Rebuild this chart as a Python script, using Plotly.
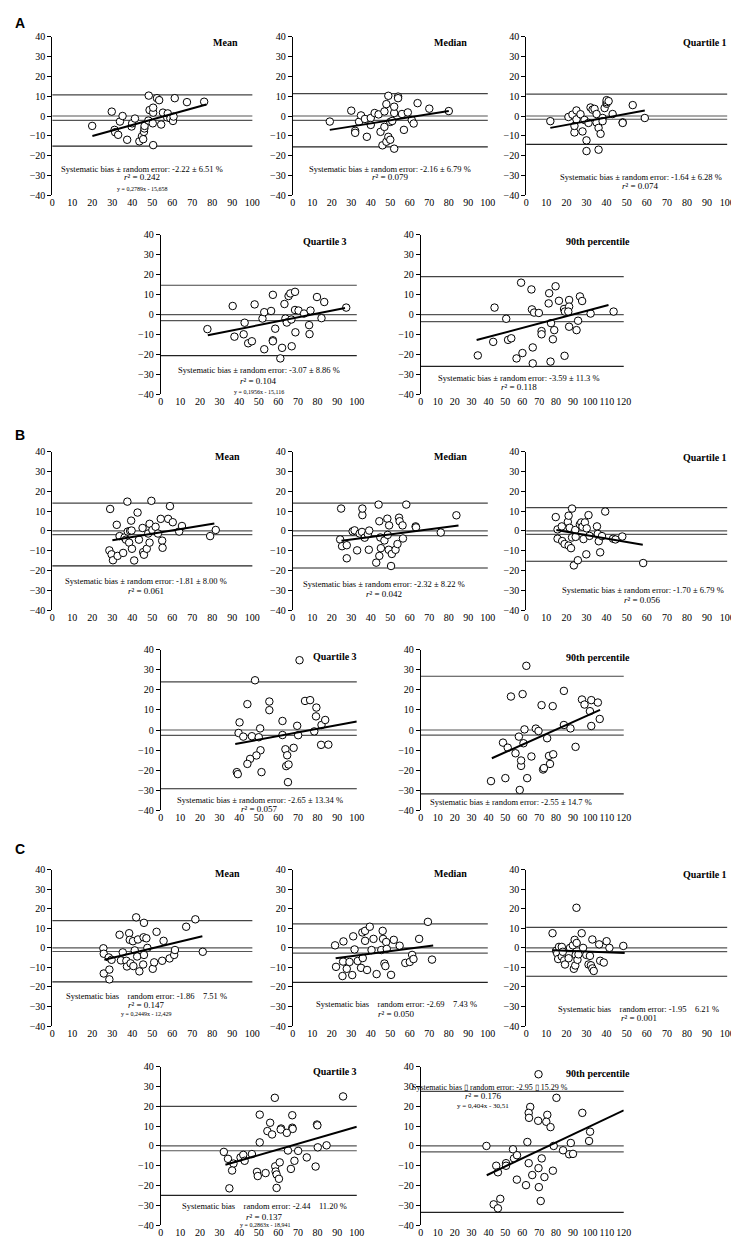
import plotly.graph_objects as go

W, H = 739, 1240

# ---------------- DATA ----------------
# Panel A
a_mean_x = [19.9, 29.7, 31.1, 31.4, 32.9, 33.8, 35.1, 37.4, 39.6, 39.9, 41.3, 43.5, 44.8, 45.4, 45.8, 46.0, 46.1, 48.0, 48.2, 48.6, 50.4, 50.4, 50.2, 50.4, 52.3, 53.4, 54.4, 55.3, 57.4, 57.7, 59.0, 60.3, 60.6, 61.2, 67.3, 75.9]
a_mean_y = [-5.0, 2.2, -7.0, -8.2, -9.5, -2.8, 0.0, -12.0, -5.3, -3.7, -1.3, -12.8, -10.2, -11.7, -8.0, -6.3, -5.0, -2.3, 10.3, 3.0, 1.7, 4.2, -3.7, -14.7, 9.0, 8.0, -4.3, 1.7, -0.7, 1.3, -1.2, -2.5, -0.3, 9.0, 7.0, 7.2]
a_median_x = [19, 30, 32, 32, 34, 35, 37, 38, 40, 40, 42, 44, 45, 46, 47, 47, 48, 48, 49, 49, 50, 50, 51, 52, 52, 52, 54, 54, 56, 57, 59, 61, 62, 64, 70, 80]
a_median_y = [-2.8, 2.7, -7.5, -8.5, -2.9, 0.3, -1.5, -10.5, -1.0, -4.5, 1.5, 0.8, -8.0, -14.8, -5.5, 2.3, 6.0, -13.0, -10.5, 10.2, -12.0, -3.0, -2.5, 1.5, 4.7, -16.5, 9.8, 9.0, 1.0, -7.0, 1.8, -2.0, -3.8, 6.5, 3.7, 2.5]
a_q1_x = [12, 21, 23, 24, 24, 25, 25, 27, 28, 29, 30, 30, 31, 32, 33, 34, 35, 35, 36, 36, 37, 38, 38, 39, 40, 40, 40, 41, 43, 48, 48, 53, 59]
a_q1_y = [-2.6, -0.5, 0.7, -8.3, -5.0, 2.8, -1.7, 0.9, -7.8, -2.0, -12.3, -17.7, -3.5, 4.3, 3.2, 3.6, -3.3, 1.0, -6.0, -17.0, -9.0, -1.0, -2.6, 4.0, 6.2, 7.0, 8.0, 7.5, 1.0, -3.2, -3.5, 5.5, -1.0]
a_q3_x = [23.8, 36.7, 37.6, 42.8, 42.3, 44.6, 46.5, 47.9, 51.9, 52.8, 52.8, 56.3, 57.2, 57.2, 57.2, 58.4, 61.0, 61.9, 63.1, 63.6, 64.3, 65.2, 66.1, 66.6, 66.8, 68.5, 68.5, 68.7, 70.3, 73.1, 75.7, 75.9, 76.4, 79.7, 82.0, 83.4, 94.6]
a_q3_y = [-7.3, 4.3, -11.1, -4.1, -9.9, -14.4, -13.4, 5.1, -2.0, 1.2, -17.4, 1.8, 9.9, -12.9, -13.4, -7.1, -22.0, -16.7, 5.3, -2.0, -4.0, 9.3, 10.6, -2.5, -15.9, 11.4, 2.3, -8.9, 2.0, 0.5, -5.3, -9.8, 2.0, 8.8, -1.8, 6.3, 3.5]
a_p90_x = [33.7, 43.6, 42.8, 50.5, 51.6, 53.5, 56.6, 59.3, 60.1, 65.4, 65.7, 66.2, 66.2, 67.0, 69.8, 71.4, 71.4, 75.9, 75.6, 77.0, 76.7, 78.1, 78.9, 79.7, 81.7, 84.7, 85.0, 85.2, 87.7, 87.7, 87.7, 87.2, 92.1, 93.0, 94.1, 95.4, 100.4, 114.0]
a_p90_y = [-20.5, 3.5, -13.7, -2.1, -12.7, -11.9, -22.0, 16.0, -19.3, 12.6, 2.6, -16.5, -24.5, 1.0, 0.8, -8.3, -9.9, 10.7, 5.6, -4.3, -23.6, -12.4, -7.8, 14.2, 6.9, 2.8, -20.7, 1.5, 7.3, 4.0, -6.1, 1.5, -7.8, -3.1, 9.1, 6.8, 0.5, 1.5]

# Panel B
b_mean_x = [28.9, 28.5, 29.6, 30.3, 32.2, 32.6, 33.6, 35.4, 36.1, 36.8, 37.5, 37.7, 38.4, 38.9, 39.6, 39.4, 39.8, 40.9, 42.6, 43.3, 45.1, 45.4, 45.8, 47.2, 47.9, 48.6, 48.6, 49.5, 50.0, 51.6, 52.8, 54.2, 54.9, 55.1, 57.9, 58.8, 60.2, 63.4, 64.8, 78.9, 81.7]
b_mean_y = [11.1, -9.8, -11.8, -14.8, 3.1, -12.6, -2.6, -11.1, -3.3, -4.4, 14.8, -0.3, -5.9, 0.0, 0.2, 5.2, -9.0, -14.9, 9.3, -4.4, 1.5, -10.7, -12.0, -9.0, -1.3, 3.6, -5.9, 15.2, 0.5, 2.1, -1.3, 6.1, -4.9, -8.5, 6.1, 12.5, 4.4, -0.3, 2.5, -2.6, 0.5]
b_median_x = [24.3, 24.8, 25.3, 27.7, 27.7, 30.7, 31.7, 33.0, 34.3, 35.5, 35.7, 35.7, 36.9, 38.5, 39.0, 39.2, 42.8, 44.0, 44.4, 44.4, 45.2, 44.9, 47.0, 48.5, 48.7, 49.4, 49.2, 50.4, 50.8, 52.7, 53.7, 54.5, 54.8, 56.3, 56.5, 58.2, 63.0, 63.2, 75.9, 83.9]
b_median_y = [-4.3, 11.3, -7.7, -7.2, -13.8, -0.2, 0.3, -9.8, -1.3, -0.5, 8.0, 11.3, -3.4, -1.6, -9.5, 0.2, -16.0, 13.3, 4.9, -12.6, -8.7, -3.3, -4.8, 6.2, -2.0, 2.8, -9.5, -17.7, -11.6, -9.5, -6.6, 6.7, 4.9, 2.8, -3.8, 13.3, 2.3, 1.8, -0.8, 7.9]
b_q1_x = [14.7, 15.6, 15.6, 17.7, 17.9, 19.1, 20.7, 21.1, 21.1, 21.6, 22.3, 22.8, 22.8, 23.7, 24.4, 24.6, 25.7, 26.7, 27.4, 28.0, 28.5, 29.2, 30.1, 29.9, 31.0, 31.5, 35.2, 35.6, 36.1, 36.8, 37.7, 39.3, 43.2, 44.4, 47.8, 58.2]
b_q1_y = [7.0, 0.8, -3.9, 2.3, -5.1, -6.6, 4.6, 7.7, -7.4, 1.6, -8.7, 11.3, -3.3, -17.4, 0.5, -3.0, -14.8, 3.3, 4.3, 2.1, -4.1, 4.3, 1.3, -11.8, 8.0, -2.5, 2.3, -1.5, -5.2, -10.8, -2.6, 9.8, -3.9, -4.3, -2.8, -16.2]
b_q3_x = [70.8, 48.1, 40.2, 39.7, 42.1, 44.2, 46.5, 50.0, 50.7, 50.9, 48.8, 45.6, 44.2, 38.8, 39.3, 51.4, 55.4, 55.4, 62.1, 62.1, 63.6, 64.5, 64.0, 65.2, 64.9, 67.8, 69.6, 70.1, 73.6, 76.2, 78.3, 79.2, 79.4, 82.0, 83.9, 81.8, 85.5]
b_q3_y = [34.8, 24.8, 3.8, -1.5, -3.3, 12.9, -3.1, -3.6, 0.8, -10.1, -12.7, -14.4, -16.9, -21.0, -22.0, -21.0, 14.2, 9.9, 4.5, -2.5, -9.6, -12.6, -18.0, -17.2, -26.0, -8.9, 2.1, -2.6, 14.5, 14.9, -0.7, 6.8, 11.2, 2.5, 5.0, -7.4, -7.3]
b_p90_x = [62.4, 53.3, 60.2, 84.6, 71.4, 78.0, 95.3, 96.8, 100.8, 104.7, 100.0, 105.8, 100.8, 84.6, 88.5, 61.3, 68.0, 69.6, 58.0, 60.7, 48.6, 51.4, 56.0, 65.4, 74.7, 75.8, 78.3, 76.4, 72.3, 72.8, 59.3, 59.3, 62.9, 50.0, 41.5, 58.5, 91.5]
b_p90_y = [32.0, 16.7, 17.9, 19.5, 12.4, 11.9, 15.2, 12.7, 14.9, 13.7, 9.4, 5.5, 2.0, 2.5, 0.8, 0.3, 0.7, -0.5, -3.3, -6.6, -6.3, -8.8, -11.6, -13.2, -4.1, -12.9, -12.1, -16.9, -19.7, -19.0, -17.9, -15.2, -24.0, -24.0, -25.5, -29.9, -8.4]

# Panel C
c_mean_x = [25.5, 25.7, 25.7, 28.2, 28.5, 28.5, 29.6, 33.6, 34.3, 35.2, 37.0, 37.3, 38.4, 38.7, 39.1, 40.3, 40.5, 41.2, 41.9, 42.4, 42.8, 43.5, 45.6, 45.4, 45.8, 45.8, 47.0, 47.5, 50.2, 50.9, 52.1, 54.9, 55.6, 58.6, 60.9, 61.3, 66.9, 71.5, 75.2]
c_mean_y = [-0.2, -3.0, -13.1, -4.9, -11.1, -16.1, -6.1, 6.7, -6.4, -2.3, -6.6, -9.5, 7.5, 4.1, -7.9, 3.4, -9.3, -1.3, 15.6, -4.4, 4.3, -12.0, 5.4, -8.5, 12.8, -3.6, 4.9, 0.0, -10.7, -7.4, 8.2, -6.6, 3.6, -5.4, -3.6, -1.1, 10.8, 14.6, -2.0]
c_median_x = [21.7, 22.2, 26.0, 25.8, 25.5, 27.7, 29.1, 30.5, 31.0, 31.7, 33.3, 35.0, 35.7, 35.9, 37.1, 37.1, 38.1, 39.5, 40.4, 41.4, 43.0, 45.4, 46.1, 46.3, 47.0, 47.5, 47.9, 48.2, 50.4, 51.8, 54.8, 57.7, 60.0, 61.2, 61.9, 64.8, 69.3, 71.4]
c_median_y = [1.3, -9.7, 3.3, -7.0, -14.4, -10.7, -7.2, -13.9, 5.9, -0.8, -6.7, -10.2, 7.9, -5.2, 3.6, 8.7, -11.3, 10.8, -1.1, 4.6, -13.4, -1.1, 8.7, 4.6, -8.0, -9.3, 3.0, -0.5, -13.8, 4.1, 1.1, -7.7, -7.2, -3.6, -5.7, 4.6, 13.3, -6.0]
c_q1_x = [25.0, 13.1, 14.9, 15.4, 15.9, 16.3, 17.7, 17.7, 18.2, 18.9, 19.3, 21.1, 21.8, 23.2, 23.7, 24.1, 24.4, 24.6, 25.1, 25.5, 26.0, 27.6, 28.3, 29.9, 31.0, 31.7, 32.2, 32.9, 32.9, 33.6, 36.3, 36.8, 38.6, 40.0, 41.4, 48.3]
c_q1_y = [20.5, 7.5, -1.5, -2.8, -5.7, 0.5, 0.5, -4.4, -2.0, -6.4, -8.5, -5.3, 0.0, 1.3, -10.7, 4.1, -9.0, -3.6, 2.5, -6.1, -3.3, 7.5, 0.0, -3.6, -8.5, -4.1, -8.9, 4.3, -10.5, -11.8, 1.8, -6.6, -7.5, 3.4, 0.0, 1.0]
c_q3_x = [58.2, 93.0, 50.5, 67.1, 55.8, 79.7, 61.4, 67.1, 54.4, 56.8, 61.2, 67.3, 64.3, 79.9, 50.5, 32.2, 34.3, 37.1, 36.4, 35.0, 40.7, 42.1, 42.8, 46.5, 49.1, 49.5, 53.5, 58.4, 58.6, 59.1, 59.1, 60.3, 60.7, 64.9, 66.4, 68.2, 70.1, 74.5, 79.0, 80.1, 84.6]
c_q3_y = [24.3, 25.0, 15.8, 15.5, 11.7, 10.8, 8.8, 9.2, 7.5, 5.8, 8.3, 8.6, 6.6, 10.4, 1.8, -3.0, -6.5, -8.9, -12.4, -21.4, -5.8, -4.5, -7.5, -4.1, -13.1, -15.2, -13.7, -10.3, -12.9, -14.4, -21.2, -16.6, -8.3, -2.3, -11.6, -7.5, -2.5, -5.8, -10.4, -0.7, 0.3]
c_p90_x = [69.6, 80.2, 64.7, 63.8, 64.0, 69.4, 74.8, 74.2, 76.7, 95.5, 100.1, 99.5, 88.7, 87.7, 90.0, 84.1, 78.6, 63.0, 38.8, 54.5, 55.1, 56.9, 50.4, 50.4, 44.6, 45.6, 63.8, 65.9, 71.5, 69.6, 73.1, 78.1, 56.8, 62.2, 69.8, 70.9, 47.0, 43.1, 45.6]
c_p90_y = [36.2, 24.3, 19.7, 16.7, 14.2, 12.7, 15.7, 12.2, 9.5, 16.7, 7.2, 2.5, 1.5, -4.2, -4.0, -2.2, 0.0, 2.0, 0.0, -1.7, -6.3, -4.7, -8.7, -10.0, -10.0, -13.3, -8.7, -14.7, -6.3, -11.2, -15.7, -12.5, -17.0, -19.8, -20.8, -27.8, -26.7, -29.5, -31.5]

# subplot titles, x-axis maxima
titles = ["Mean", "Median", "Quartile 1", "Quartile 3", "90th percentile"] * 3
x_max = [100, 100, 100, 100, 120] * 3

# horizontal reference lines: bias, upper / lower limits of agreement
bias_values = [-2.22, -2.16, -1.64, -3.07, -3.59, -1.81, -2.32, -1.70, -2.65, -2.55, -1.86, -2.69, -1.95, -2.44, -2.95]
upper_loa = [10.7, 11.3, 11.0, 14.7, 19.0, 14.0, 14.0, 11.8, 24.0, 26.8, 13.9, 12.3, 10.5, 20.0, 27.5]
lower_loa = [-15.2, -15.6, -14.3, -20.6, -26.0, -17.6, -18.7, -15.3, -29.3, -31.8, -17.4, -17.6, -14.5, -25.0, -33.5]

# regression line end points
reg_x0 = [20, 19, 12, 24, 33, 30, 25, 15, 38, 42, 26, 22, 13, 33, 39]
reg_y0 = [-10.1, -7.0, -6.0, -10.4, -12.8, -4.7, -5.0, 0.5, -7.0, -14.1, -6.1, -5.3, -1.2, -9.5, -14.8]
reg_x1 = [77, 80, 59, 94, 111, 81, 85, 58, 100, 106, 75, 72, 49, 100, 120]
reg_y1 = [5.8, 2.5, 2.8, 3.3, 4.8, 3.8, 2.7, -7.0, 4.2, 10.0, 5.9, 1.2, -2.6, 9.7, 18.0]

# annotation texts
bias_text = [
    "Systematic bias ± random error: -2.22 ± 6.51 %",
    "Systematic bias ± random error: -2.16 ± 6.79 %",
    "Systematic bias ± random error: -1.64 ± 6.28 %",
    "Systematic bias ± random error: -3.07 ± 8.86 %",
    "Systematic bias ± random error: -3.59 ± 11.3 %",
    "Systematic bias ± random error: -1.81 ± 8.00 %",
    "Systematic bias ± random error: -2.32 ± 8.22 %",
    "Systematic bias ± random error: -1.70 ± 6.79 %",
    "Systematic bias ± random error: -2.65 ± 13.34 %",
    "Systematic bias ± random error: -2.55 ± 14.7 %",
    "Systematic bias \u00a0\u00a0\u00a0random error: -1.86 \u00a0\u00a0\u00a07.51 %",
    "Systematic bias \u00a0\u00a0\u00a0random error: -2.69 \u00a0\u00a0\u00a07.43 %",
    "Systematic bias \u00a0\u00a0\u00a0random error: -1.95 \u00a0\u00a0\u00a06.21 %",
    "Systematic bias \u00a0\u00a0\u00a0random error: -2.44 \u00a0\u00a0\u00a011.20 %",
    "Systematic bias \u25af random error: -2.95 \u25af 15.29 %",
]
r2_text = ["0.242", "0.079", "0.074", "0.104", "0.118", "0.061", "0.042", "0.056", "0.057", "0.122",
           "0.147", "0.050", "0.001", "0.137", "0.176"]
eq_text = ["y = 0,2789x - 15,658", "", "", "y = 0,1956x - 15,116", "y = 0,2262x - 20,291",
           "", "", "", "", "y = 0,3754x - 29,838",
           "y = 0,2449x - 12,429", "", "", "y = 0,2863x - 18,941", "y = 0,404x - 30,51"]

# ---------------- LAYOUT (pixels) ----------------
row_px = [(23, 183), (223, 384), (442, 602), (642, 804), (864, 1022), (1063, 1223)]
top_cols = [(42, 245), (286, 484), (523, 727)]
bot_cols = [(152, 351), (416, 622)]

# text placement per subplot: (x, y) of bias text, r2, equation (data coords)
txt_pos = [
    ((45, -27), (45, -31), (45, -37)),
    ((50, -27), (50, -31), None),
    ((57, -30.8), (57, -35.3), None),
    ((50, -28), (50, -33.5), (50, -39)),
    ((58, -31.7), (58, -36.2), (58, -40.3)),
    ((47, -25.4), (47, -30.3), None),
    ((47, -27), (47, -32), None),
    ((58, -30), (58, -35), None),
    ((50.5, -34.7), (50.5, -39.2), None),
    ((53.5, -36), (48, -41.3), (111, -41.3)),
    ((47, -24.4), (47, -29), (47, -34)),
    ((53, -28.7), (53, -33.6), None),
    ((56, -31), (56, -36), None),
    ((53, -30.5), (53, -35.8), (53, -39.7)),
    ((41, 29.6), (37, 25.2), (37, 20.2)),
]
# title right edges (data coords)
title_pos = [(94, 37), (90.5, 37), (101, 37), (96, 36.5), (125, 36.5),
             (95, 37.5), (90.5, 37.5), (101, 37), (101, 36.7), (125, 36.3),
             (95, 37.8), (90.5, 37.8), (101, 37.5), (101, 37.5), (125, 36.7)]

series = [
    (a_mean_x, a_mean_y), (a_median_x, a_median_y), (a_q1_x, a_q1_y), (a_q3_x, a_q3_y), (a_p90_x, a_p90_y),
    (b_mean_x, b_mean_y), (b_median_x, b_median_y), (b_q1_x, b_q1_y), (b_q3_x, b_q3_y), (b_p90_x, b_p90_y),
    (c_mean_x, c_mean_y), (c_median_x, c_median_y), (c_q1_x, c_q1_y), (c_q3_x, c_q3_y), (c_p90_x, c_p90_y),
]

SERIF = "Liberation Serif, Times New Roman, serif"
fig = go.Figure()
layout = dict(width=W, height=H, margin=dict(l=0, r=0, t=0, b=0), showlegend=False,
              plot_bgcolor="white", paper_bgcolor="white", font=dict(family=SERIF, color="black", size=10))
shapes = []
annotations = []

for i in range(15):
    panel = i // 5
    k = i % 5
    if k < 3:
        rp = row_px[panel * 2]
        cp = top_cols[k]
    else:
        rp = row_px[panel * 2 + 1]
        cp = bot_cols[k - 3]
    n = i + 1
    xa = "x" if n == 1 else f"x{n}"
    ya = "y" if n == 1 else f"y{n}"
    xkey = "xaxis" if n == 1 else f"xaxis{n}"
    ykey = "yaxis" if n == 1 else f"yaxis{n}"
    layout[xkey] = dict(domain=[cp[0] / W, cp[1] / W], range=[0, x_max[i]], dtick=10, tick0=0,
                        showline=False, showgrid=False, zeroline=False, ticks="",
                        anchor=ya, tickfont=dict(family=SERIF, size=10), fixedrange=True)
    layout[ykey] = dict(domain=[1 - rp[1] / H, 1 - rp[0] / H], range=[-40, 40], dtick=10, tick0=-40,
                        showline=True, linecolor="black", linewidth=1, showgrid=False, zeroline=False,
                        ticks="outside", ticklen=4, tickcolor="black", anchor=xa,
                        tickfont=dict(family=SERIF, size=10), fixedrange=True)

    # reference lines
    for yv, col in ((upper_loa[i], "#444"), (0, "#555"), (bias_values[i], "#555"), (lower_loa[i], "#222")):
        shapes.append(dict(type="line", xref=f"{xa} domain", yref=ya, x0=0, x1=1, y0=yv, y1=yv,
                           line=dict(color=col, width=1.2), layer="below"))

    xs, ys = series[i]
    fig.add_trace(go.Scatter(x=xs, y=ys, mode="markers", xaxis=xa, yaxis=ya,
                             marker=dict(symbol="circle", size=7.5, color="white",
                                         line=dict(color="black", width=1)), cliponaxis=False))
    fig.add_trace(go.Scatter(x=[reg_x0[i], reg_x1[i]], y=[reg_y0[i], reg_y1[i]], mode="lines",
                             xaxis=xa, yaxis=ya, line=dict(color="black", width=2)))

    # title (domain reference so it may sit past the axis end)
    annotations.append(dict(text=f"<b>{titles[i]}</b>", x=title_pos[i][0] / x_max[i], y=title_pos[i][1],
                            xref=f"{xa} domain", yref=ya, xanchor="right", showarrow=False,
                            font=dict(family=SERIF, size=10)))
    # texts
    (bx, by), (rx, ry), eqp = txt_pos[i]
    bsize = 8.5 if i != 14 else 8
    annotations.append(dict(text=bias_text[i], x=bx / x_max[i], y=by, xref=f"{xa} domain", yref=ya,
                            xanchor="center", showarrow=False, font=dict(family=SERIF, size=bsize)))
    annotations.append(dict(text=f"<i>r</i>² = {r2_text[i]}", x=rx / x_max[i], y=ry, xref=f"{xa} domain",
                            yref=ya, xanchor="center", showarrow=False, font=dict(family=SERIF, size=9)))
    if eq_text[i] and eqp is not None:
        annotations.append(dict(text=eq_text[i], x=eqp[0] / x_max[i], y=eqp[1], xref=f"{xa} domain",
                                yref=ya, xanchor="center", showarrow=False,
                                font=dict(family=SERIF, size=6 if i != 14 else 7)))

# panel letters
for letter, ypx in (("A", 9), ("B", 425), ("C", 843)):
    annotations.append(dict(text=f"<b>{letter}</b>", x=2 / W, y=1 - ypx / H, xref="paper", yref="paper",
                            xanchor="left", yanchor="middle", showarrow=False,
                            font=dict(family="Liberation Sans, Arial, sans-serif", size=14)))

layout["shapes"] = shapes
layout["annotations"] = annotations
fig.update_layout(**layout)
fig.write_html("out.html")
